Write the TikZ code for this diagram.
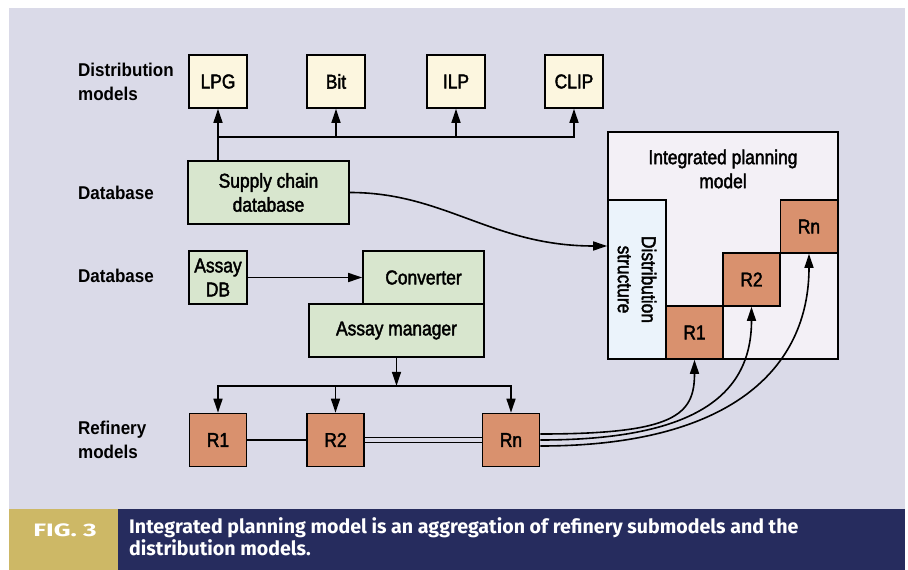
\documentclass[tikz,border=0pt]{standalone}
\usepackage{fontspec}
\setmainfont{Liberation Sans}[FakeStretch=0.92]
\newfontfamily\boxfont{Liberation Sans}[FakeStretch=0.87, FakeBold=2]
\newfontfamily\capfont{Fira Sans}
\newfontfamily\figfont{Fira Sans}[FakeStretch=1.45]
\usetikzlibrary{arrows.meta}

\definecolor{panel}{RGB}{218,218,232}
\definecolor{distfill}{RGB}{252,246,223}
\definecolor{dbfill}{RGB}{216,230,206}
\definecolor{reffill}{RGB}{217,145,110}
\definecolor{ipmfill}{RGB}{243,240,246}
\definecolor{dsfill}{RGB}{235,243,251}
\definecolor{figgold}{RGB}{205,184,102}
\definecolor{fignavy}{RGB}{38,44,94}

\begin{document}
\begin{tikzpicture}[
            x=1pt, y=-1pt,
            font=\boxfont\fontsize{20}{24}\selectfont,
            box node/.style={draw, line width=1.7pt, inner sep=0pt, align=center},
            dist node/.style={box node, fill=distfill, minimum width=58pt, minimum height=53pt},
            db node/.style={box node, fill=dbfill, minimum height=53pt},
            ref node/.style={box node, fill=reffill, minimum width=57pt, minimum height=53pt},
            side label/.style={anchor=west, inner sep=0pt, align=left, font=\rmfamily\fontsize{18.5}{24}\selectfont\bfseries},
            link/.style={line width=1.6pt},
            arr/.style={link, -{Triangle[length=14pt, width=9pt]}},
            ]
            \fill[white] (0,0) rectangle (908,570);
            \fill[panel] (9,8) rectangle (905,509);
            \fill[figgold] (9,509) rectangle (118,570);
            \fill[fignavy] (118,509) rectangle (905,570);
            \useasboundingbox (0,0) rectangle (908,570);

            \node[side label] (ldist) at (78,81.5) {Distribution\\models};
            \node[side label] (ldb1) at (78,192.5) {Database};
            \node[side label] (ldb2) at (78,276) {Database};
            \node[side label] (lref) at (78,440) {Refinery\\models};

            \node[dist node] (lpg) at (218,81.5) {LPG};
            \node[dist node] (bit) at (336,81.5) {Bit};
            \node[dist node] (ilp) at (456,81.5) {ILP};
            \node[dist node] (clip) at (574,81.5) {CLIP};

            \node[db node, minimum width=161pt, minimum height=63pt] (scd) at (268.5,192.5) {Supply chain\\database};
            \node[db node, minimum width=58pt] (adb) at (218,277.5) {Assay\\DB};
            \node[db node, minimum width=121pt] (conv) at (423.5,277.5) {Converter};
            \node[db node, minimum width=175pt] (am) at (396.5,330.5) {Assay manager};

            \node[ref node] (r1) at (218,440) {R1};
            \node[ref node] (r2) at (335.5,440) {R2};
            \node[ref node] (rn) at (511,440) {Rn};

            \node[box node, fill=ipmfill, minimum width=230pt, minimum height=227pt] (ipm) at (723,245.5) {};
            \node[align=center, inner sep=0pt] (ipmtitle) at (723,169) {Integrated planning\\model};
            \node[box node, fill=dsfill, minimum width=58pt, minimum height=159pt] (ds) at (637,279.5) {};
            \node[rotate=-90, align=center, inner sep=0pt] (dstext) at (ds) {Distribution\\structure};
            \node[ref node] (ir1) at (694.5,332.5) {R1};
            \node[ref node] (ir2) at (751.5,279.5) {R2};
            \node[ref node] (irn) at (809,226.5) {Rn};

            \coordinate (dbus) at (218,137);
            \draw[arr] (lpg |- scd.north) -- (lpg.south);
            \draw[arr] (dbus) -| (clip.south);
            \draw[arr] (bit |- dbus) -- (bit.south);
            \draw[arr] (ilp |- dbus) -- (ilp.south);

            \draw[arr] (adb) -- (conv);
            \draw[arr] (scd.east) .. controls +(95,0) and +(-115,0) .. ([yshift=33.5pt]ds.west);

            \path (am.south) ++(0,28) coordinate (rbus);
            \draw[arr] (am.south) -- (rbus);
            \draw[arr] (rbus) -| (r1.north);
            \draw[arr] (rbus) -| (rn.north);
            \draw[arr] (r2 |- rbus) -- (r2.north);

            \draw[link] (r1) -- (r2);
            \draw[link] ([yshift=2.5pt]r2.east) -- ([yshift=2.5pt]rn.west);
            \draw[link] ([yshift=-2.5pt]r2.east) -- ([yshift=-2.5pt]rn.west);

            \draw[arr] ([yshift=6pt]rn.east) .. controls +(135,0) and +(0,55) .. (ir1.south);
            \draw[arr] (rn.east) .. controls +(160,0) and +(0,85) .. (ir2.south);
            \draw[arr] ([yshift=-6pt]rn.east) .. controls +(190,0) and +(0,115) .. (irn.south);

            \node[anchor=base, inner sep=0pt, text=white, font=\figfont\bfseries\fontsize{18}{19}\selectfont] (fig) at (65,536) {FIG. 3};
            \node[anchor=base west, inner sep=0pt, align=left, text=white, font=\capfont\bfseries\fontsize{19.6}{19}\selectfont] (cap) at (129,555) {Integrated planning model is an aggregation of refinery submodels and the\\distribution models.};
        \end{tikzpicture}
\end{document}
